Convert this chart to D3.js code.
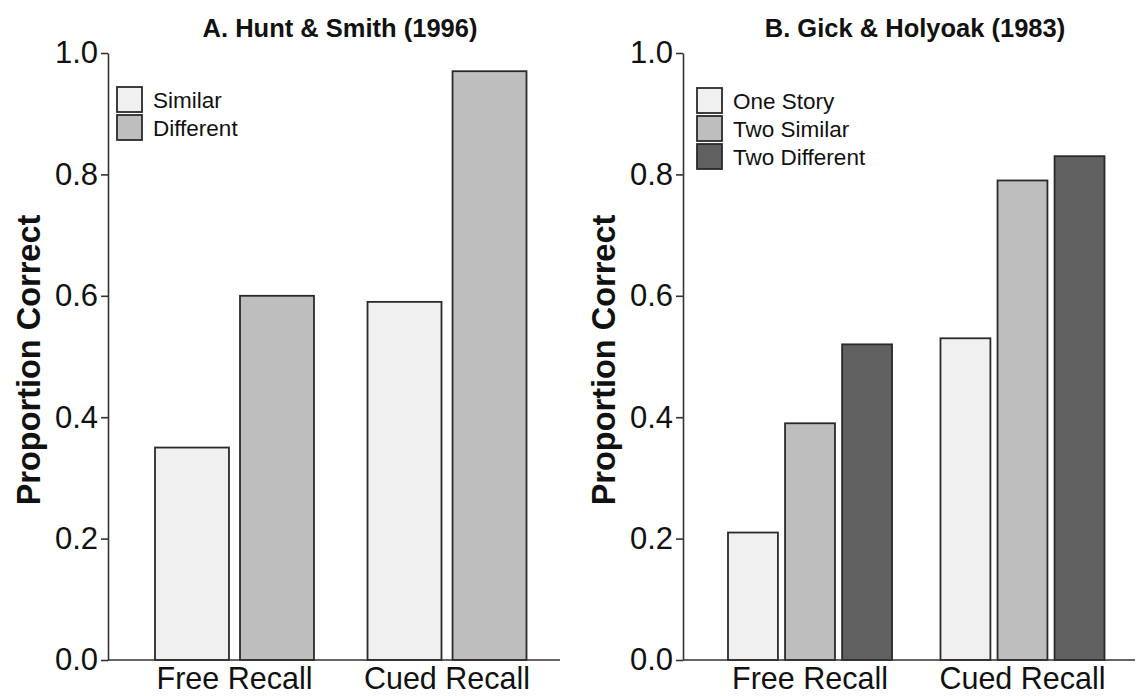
<!DOCTYPE html>
<html>
<head>
<meta charset="utf-8">
<script src="https://cdn.jsdelivr.net/npm/d3@7.9.0/dist/d3.min.js"></script>
<style>
  html, body { margin: 0; padding: 0; background: #fff; }
  svg { display: block; }
</style>
</head>
<body>
<div id="chart"></div>
<script>
// data
const categories = ['Free Recall', 'Cued Recall'];
const yTicks = [0, 0.2, 0.4, 0.6, 0.8, 1.0];

const hsConditions = ['Similar', 'Different'];
const hsSimilar = [0.35, 0.59];
const hsDifferent = [0.60, 0.97];

const ghConditions = ['One Story', 'Two Similar', 'Two Different'];
const ghOneStory = [0.21, 0.53];
const ghTwoSimilar = [0.39, 0.79];
const ghTwoDifferent = [0.52, 0.83];

const FILLS = ['#f0f0f0', '#bebebe', '#606060'];
const FONT = '"Liberation Sans", Arial, Helvetica, sans-serif';
const W = 1137, H = 696;

const svg = d3.select('#chart').append('svg')
    .attr('width', W)
    .attr('height', H)
    .attr('viewBox', `0 0 ${W} ${H}`);

const y = d3.scaleLinear().domain([0, 1]).range([660, 53]);

function drawPanel(p) {
    const g = svg.append('g');
    const series = p.series;

    // groups + bars inside groups
    const x = d3.scaleBand()
        .domain(categories)
        .range(p.groupRange)
        .paddingInner(p.groupPad)
        .paddingOuter(0);
    const xs = d3.scaleBand()
        .domain(p.conditions)
        .range([0, x.bandwidth()])
        .paddingInner(p.barPad)
        .paddingOuter(0);

    const rows = [];
    categories.forEach((c, i) => {
        p.conditions.forEach((k, j) => rows.push({ cat: c, cond: k, j, value: series[j][i] }));
    });

    g.append('g')
        .selectAll('rect')
        .data(rows)
        .join('rect')
        .attr('x', d => x(d.cat) + xs(d.cond))
        .attr('y', d => y(d.value))
        .attr('width', xs.bandwidth())
        .attr('height', d => y(0) - y(d.value))
        .attr('fill', d => FILLS[d.j])
        .attr('stroke', '#2a2a2a')
        .attr('stroke-width', 1.8);

    // y axis
    const ax = g.append('g')
        .attr('transform', `translate(${p.axisX},0)`)
        .call(d3.axisLeft(y).tickValues(yTicks).tickFormat(d3.format('.1f')).tickSize(7).tickSizeOuter(0).tickPadding(3));
    ax.select('.domain').attr('stroke', '#333').attr('stroke-width', 1.6);
    ax.selectAll('.tick line').attr('stroke', '#333').attr('stroke-width', 1.6);
    ax.selectAll('.tick text')
        .attr('font-family', FONT)
        .attr('font-size', 31)
        .attr('fill', '#111');

    // x axis line
    g.append('line')
        .attr('x1', p.axisX).attr('x2', p.axisEnd)
        .attr('y1', y(0)).attr('y2', y(0))
        .attr('stroke', '#333').attr('stroke-width', 1.6);

    g.append('g')
        .selectAll('text')
        .data(categories)
        .join('text')
        .attr('x', d => x(d) + x.bandwidth() / 2)
        .attr('y', 689)
        .attr('text-anchor', 'middle')
        .attr('font-family', FONT)
        .attr('font-size', 30.5)
        .attr('fill', '#111')
        .text(d => d);

    // y label
    g.append('text')
        .attr('transform', `translate(${p.axisX - 68},360) rotate(-90)`)
        .attr('text-anchor', 'middle')
        .attr('font-family', FONT)
        .attr('font-weight', 'bold')
        .attr('font-size', 32.5)
        .attr('fill', '#111')
        .text('Proportion Correct');

    // title
    g.append('text')
        .attr('x', p.axisX + 232)
        .attr('y', 37)
        .attr('text-anchor', 'middle')
        .attr('font-family', FONT)
        .attr('font-weight', 'bold')
        .attr('font-size', 25.5)
        .attr('fill', '#111')
        .text(p.title);

    // legend
    const lg = g.append('g')
        .attr('transform', `translate(${p.legendX},${p.legendY})`);
    const item = lg.selectAll('g')
        .data(p.conditions)
        .join('g')
        .attr('transform', (_, i) => `translate(0,${i * 28})`);
    item.append('rect')
        .attr('width', 25).attr('height', 25)
        .attr('fill', (_, i) => FILLS[i])
        .attr('stroke', '#2a2a2a')
        .attr('stroke-width', 1.8);
    item.append('text')
        .attr('x', 36)
        .attr('y', 12.5)
        .attr('dy', '0.36em')
        .attr('font-family', FONT)
        .attr('font-size', 22.5)
        .attr('fill', '#111')
        .text(d => d);
}

drawPanel({
    title: 'A. Hunt & Smith (1996)',
    conditions: hsConditions,
    series: [hsSimilar, hsDifferent],
    axisX: 108, axisEnd: 560,
    groupRange: [155, 526.5], groupPad: 0.252, barPad: 0.13,
    legendX: 117, legendY: 87
});

drawPanel({
    title: 'B. Gick & Holyoak (1983)',
    conditions: ghConditions,
    series: [ghOneStory, ghTwoSimilar, ghTwoDifferent],
    axisX: 683, axisEnd: 1135,
    groupRange: [728, 1104.5], groupPad: 0.228, barPad: 0.125,
    legendX: 697, legendY: 88
});
</script>
</body>
</html>
